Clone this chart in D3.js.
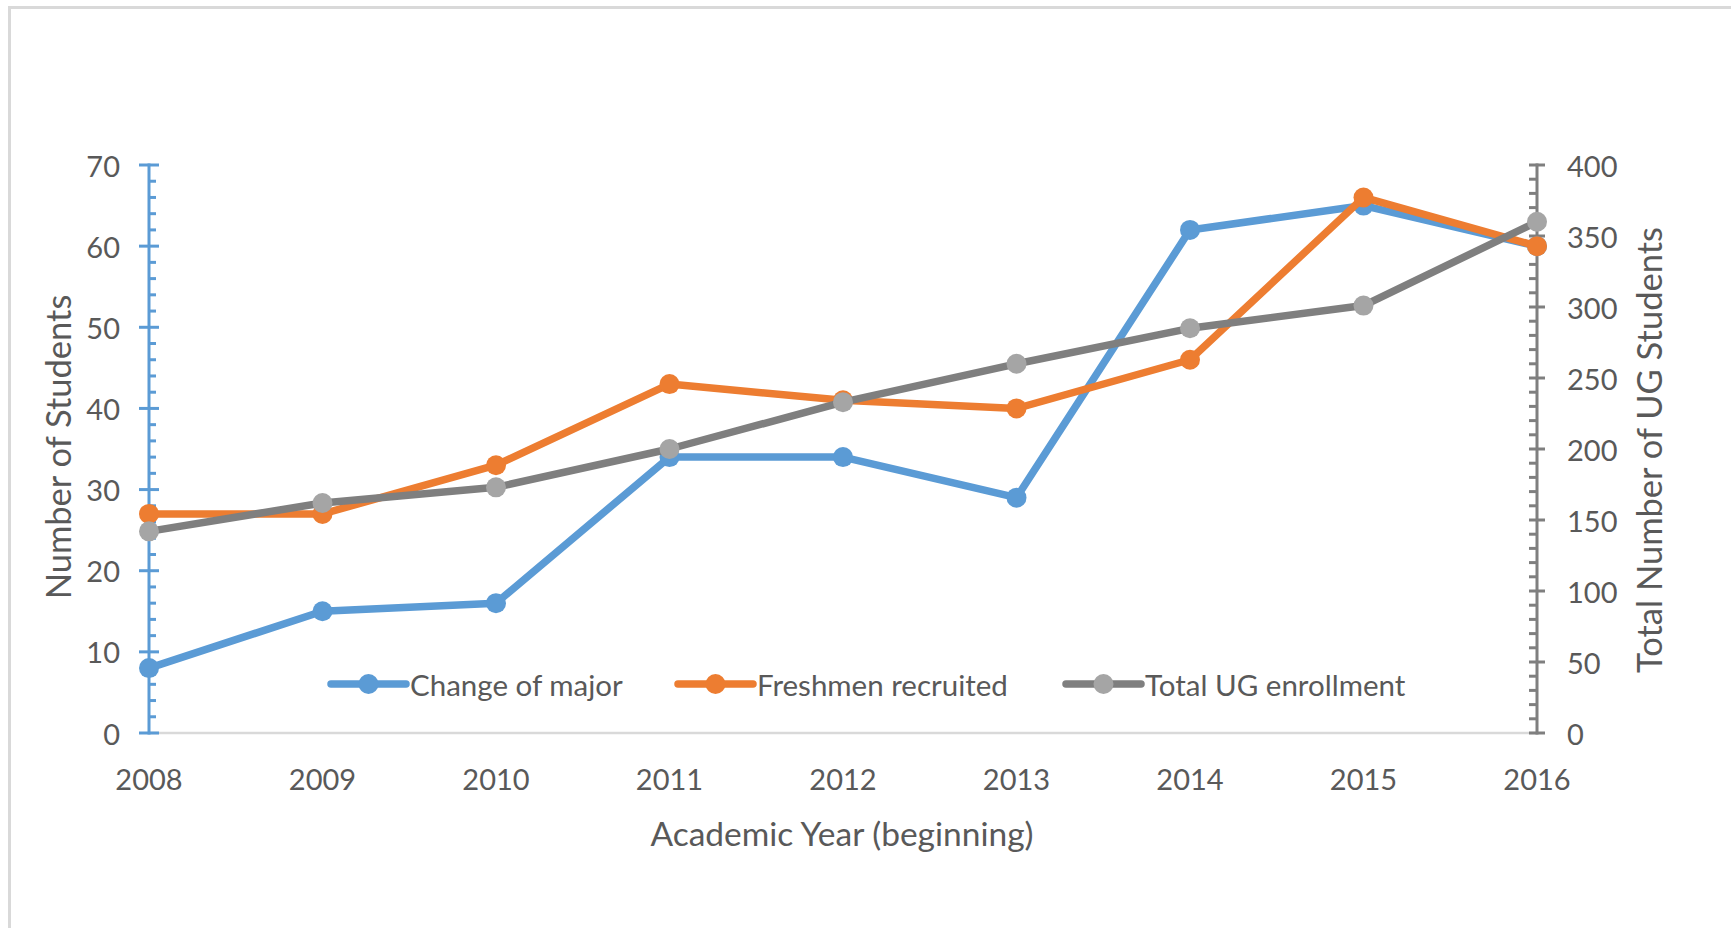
<!DOCTYPE html>
<html>
<head>
<meta charset="utf-8">
<script src="https://cdn.jsdelivr.net/npm/d3@7"></script>
<style>
  html, body { margin: 0; padding: 0; background: #ffffff; }
  svg { display: block; }
  text { font-family: Lato, "Open Sans", "DejaVu Sans", sans-serif; fill: #595959; }
</style>
</head>
<body>
<svg id="chart" width="1731" height="928"></svg>
<script>
// Academic years (beginning of the year)
const years = [2008, 2009, 2010, 2011, 2012, 2013, 2014, 2015, 2016];

// Students entering via change of major (left axis)
const changeOfMajor = [8, 15, 16, 34, 34, 29, 62, 65, 60];
// Freshmen recruited (left axis)
const freshmenRecruited = [27, 27, 33, 43, 41, 40, 46, 66, 60];
// Total undergraduate enrollment (right axis)
const totalEnrollment = [142, 162, 173, 200, 233, 260, 285, 301, 360];

const leftTicks = [0, 10, 20, 30, 40, 50, 60, 70];
const rightTicks = [0, 50, 100, 150, 200, 250, 300, 350, 400];

const seriesNames = ["Change of major", "Freshmen recruited", "Total UG enrollment"];

const C = {
  blue: "#5B9BD5",
  orange: "#ED7D31",
  grayLine: "#7F7F7F",
  grayMarker: "#A5A5A5",
  text: "#595959",
  frame: "#D9D9D9"
};

const svg = d3.select("#chart");

// Outer chart frame
svg.append("rect")
  .attr("x", 9.5).attr("y", 7.5)
  .attr("width", 1800).attr("height", 1000)
  .attr("fill", "none").attr("stroke", C.frame).attr("stroke-width", 3);

const plot = { left: 149, right: 1537, top: 165, bottom: 733 };

const x = d3.scalePoint().domain(years).range([plot.left, plot.right]);
const yL = d3.scaleLinear().domain([0, 70]).range([plot.bottom, plot.top]);
const yR = d3.scaleLinear().domain([0, 400]).range([plot.bottom, plot.top]);

// Horizontal category axis line
svg.append("line")
  .attr("x1", plot.left).attr("x2", plot.right)
  .attr("y1", plot.bottom).attr("y2", plot.bottom)
  .attr("stroke", C.frame).attr("stroke-width", 2.5);

// Left value axis: major ticks cross the line, minor ticks point inward
const leftMinor = d3.range(0, 70.001, 2).filter(v => v % 10 !== 0);
const gL = svg.append("g");
gL.append("line")
  .attr("x1", plot.left).attr("x2", plot.left)
  .attr("y1", yL(0) + 1.5).attr("y2", yL(70) - 1.5)
  .attr("stroke", C.blue).attr("stroke-width", 3);
gL.selectAll("line.major").data(leftTicks).join("line")
  .attr("class", "major")
  .attr("x1", plot.left - 10).attr("x2", plot.left + 10)
  .attr("y1", d => yL(d)).attr("y2", d => yL(d))
  .attr("stroke", C.blue).attr("stroke-width", 3);
gL.selectAll("line.minor").data(leftMinor).join("line")
  .attr("class", "minor")
  .attr("x1", plot.left).attr("x2", plot.left + 7)
  .attr("y1", d => yL(d)).attr("y2", d => yL(d))
  .attr("stroke", C.blue).attr("stroke-width", 3);
gL.selectAll("text").data(leftTicks).join("text")
  .attr("x", 120).attr("y", d => yL(d))
  .attr("text-anchor", "end").attr("dominant-baseline", "central")
  .attr("font-size", 29)
  .text(d => d3.format("d")(d));

// Right value axis for total enrollment
const rightMinor = d3.range(0, 400.001, 10).filter(v => v % 50 !== 0);
const gR = svg.append("g");
gR.append("line")
  .attr("x1", plot.right).attr("x2", plot.right)
  .attr("y1", yR(0) + 1.5).attr("y2", yR(400) - 1.5)
  .attr("stroke", C.grayLine).attr("stroke-width", 3);
gR.selectAll("line.major").data(rightTicks).join("line")
  .attr("class", "major")
  .attr("x1", plot.right - 8).attr("x2", plot.right + 8)
  .attr("y1", d => yR(d)).attr("y2", d => yR(d))
  .attr("stroke", C.grayLine).attr("stroke-width", 3);
gR.selectAll("line.minor").data(rightMinor).join("line")
  .attr("class", "minor")
  .attr("x1", plot.right - 8).attr("x2", plot.right)
  .attr("y1", d => yR(d)).attr("y2", d => yR(d))
  .attr("stroke", C.grayLine).attr("stroke-width", 3);
gR.selectAll("text").data(rightTicks).join("text")
  .attr("x", 1567).attr("y", d => yR(d))
  .attr("text-anchor", "start").attr("dominant-baseline", "central")
  .attr("font-size", 29)
  .text(d => d3.format("d")(d));

// Category labels
svg.append("g").selectAll("text").data(years).join("text")
  .attr("x", d => x(d)).attr("y", 778)
  .attr("text-anchor", "middle").attr("dominant-baseline", "central")
  .attr("font-size", 29)
  .text(d => d);

// Axis titles
svg.append("text")
  .attr("x", 842).attr("y", 833)
  .attr("text-anchor", "middle").attr("dominant-baseline", "central")
  .attr("font-size", 33.5)
  .text("Academic Year (beginning)");

svg.append("text")
  .attr("transform", "translate(57,447) rotate(-90)")
  .attr("text-anchor", "middle").attr("dominant-baseline", "central")
  .attr("font-size", 34.5)
  .text("Number of Students");

svg.append("text")
  .attr("transform", "translate(1648,450) rotate(-90)")
  .attr("text-anchor", "middle").attr("dominant-baseline", "central")
  .attr("font-size", 34.5)
  .text("Total Number of UG Students");

// Series lines with circular markers
const series = [
  { name: seriesNames[0], values: changeOfMajor, y: yL, line: C.blue, marker: C.blue },
  { name: seriesNames[1], values: freshmenRecruited, y: yL, line: C.orange, marker: C.orange },
  { name: seriesNames[2], values: totalEnrollment, y: yR, line: C.grayLine, marker: C.grayMarker }
];

series.forEach(s => {
  const pts = years.map((yr, i) => [x(yr), s.y(s.values[i])]);
  const g = svg.append("g");
  g.append("path")
    .attr("d", d3.line()(pts))
    .attr("fill", "none")
    .attr("stroke", s.line)
    .attr("stroke-width", 7.5)
    .attr("stroke-linejoin", "round")
    .attr("stroke-linecap", "round");
  g.selectAll("circle").data(pts).join("circle")
    .attr("cx", d => d[0]).attr("cy", d => d[1])
    .attr("r", 10)
    .attr("fill", s.marker);
});

// Legend inside the plot area
const legendItems = [
  { name: seriesNames[0], x0: 331, line: C.blue, marker: C.blue },
  { name: seriesNames[1], x0: 678, line: C.orange, marker: C.orange },
  { name: seriesNames[2], x0: 1066, line: C.grayLine, marker: C.grayMarker }
];
const legendY = 684;
const lg = svg.append("g").selectAll("g").data(legendItems).join("g");
lg.append("line")
  .attr("x1", d => d.x0).attr("x2", d => d.x0 + 75)
  .attr("y1", legendY).attr("y2", legendY)
  .attr("stroke", d => d.line).attr("stroke-width", 7.5)
  .attr("stroke-linecap", "round");
lg.append("circle")
  .attr("cx", d => d.x0 + 37.5).attr("cy", legendY)
  .attr("r", 10).attr("fill", d => d.marker);
lg.append("text")
  .attr("x", d => d.x0 + 79).attr("y", legendY)
  .attr("dominant-baseline", "central")
  .attr("font-size", 29.5)
  .text(d => d.name);
</script>
</body>
</html>
